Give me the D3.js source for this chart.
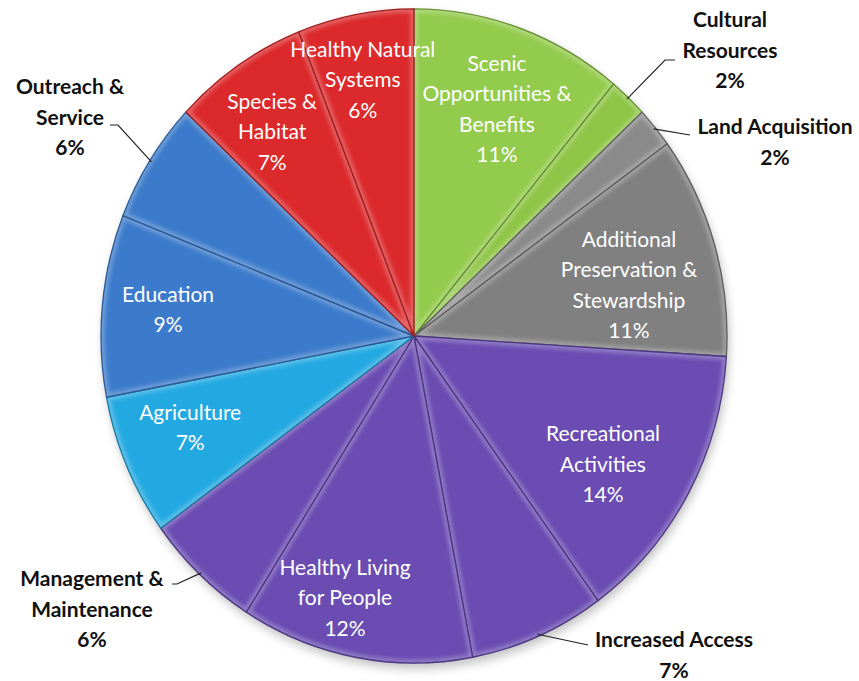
<!DOCTYPE html>
<html>
<head>
<meta charset="utf-8">
<script src="https://cdn.jsdelivr.net/npm/d3@7"></script>
<style>
  html, body { margin: 0; padding: 0; background: #ffffff; }
  svg { display: block; }
  .inlabel { font-family: Lato, "Open Sans", sans-serif; font-size: 21px; fill: #ffffff; }
  .outlabel { font-family: Lato, "Open Sans", sans-serif; font-size: 21px; font-weight: bold; fill: #111111; }
</style>
</head>
<body>
<script>
// slices, clockwise from 12 o'clock
var categories = [
    "Scenic Opportunities & Benefits", "Cultural Resources", "Land Acquisition",
    "Additional Preservation & Stewardship", "Recreational Activities", "Increased Access",
    "Healthy Living for People", "Management & Maintenance", "Agriculture",
    "Education", "Outreach & Service", "Species & Habitat", "Healthy Natural Systems"
];
var percents = [11, 2, 2, 11, 14, 7, 12, 6, 7, 9, 6, 7, 6];
var labelLines = [
    ["Scenic", "Opportunities &", "Benefits"],
    ["Cultural", "Resources"],
    ["Land Acquisition"],
    ["Additional", "Preservation &", "Stewardship"],
    ["Recreational", "Activities"],
    ["Increased Access"],
    ["Healthy Living", "for People"],
    ["Management &", "Maintenance"],
    ["Agriculture"],
    ["Education"],
    ["Outreach &", "Service"],
    ["Species &", "Habitat"],
    ["Healthy Natural", "Systems"]
];
var colors = [
    "#93CB4C", "#8EC546", "#8A8A8A", "#808080", "#6A4CB2", "#6A4CB2", "#6A4CB2",
    "#6A4CB2", "#23A9E1", "#3C7BCB", "#3C7BCB", "#DC2A2C", "#DC2A2C"
];

var width = 859, height = 681;
var cx = 414, cy = 336, r = 313, sy = 1.045;

var svg = d3.select("body").append("svg")
    .attr("width", width)
    .attr("height", height);

var defs = svg.append("defs");
defs.append("filter").attr("id", "shadow")
    .attr("x", "-10%").attr("y", "-10%").attr("width", "120%").attr("height", "120%")
    .append("feGaussianBlur").attr("stdDeviation", 5);
defs.append("filter").attr("id", "soft")
    .append("feGaussianBlur").attr("stdDeviation", 2.2);

var data = categories.map(function(c, i) {
    return { name: c, value: percents[i], lines: labelLines[i], color: colors[i] };
});

var pie = d3.pie().sort(null).value(function(d) { return d.value; });
var arcs = pie(data);
var arc = d3.arc().innerRadius(0).outerRadius(r);

var g = svg.append("g")
    .attr("transform", "translate(" + cx + "," + cy + ") scale(1," + sy + ")");

// soft shadow under the pie
g.append("circle")
    .attr("cx", 2).attr("cy", 5).attr("r", r)
    .style("fill", "#000")
    .style("opacity", 0.25)
    .attr("filter", "url(#shadow)");

arcs.forEach(function(d, i) {
    defs.append("clipPath").attr("id", "clip" + i)
        .append("path").attr("d", arc(d));
});

var slices = g.selectAll("g.slice")
    .data(arcs)
    .enter()
    .append("g")
    .attr("class", "slice");

slices.append("path")
    .attr("d", arc)
    .style("fill", function(d) { return d.data.color; });

// bevel: light inner edge + dark crease
slices.append("path")
    .attr("d", arc)
    .attr("clip-path", function(d, i) { return "url(#clip" + i + ")"; })
    .attr("filter", "url(#soft)")
    .style("fill", "none")
    .style("stroke", "#ffffff")
    .style("stroke-width", 7)
    .style("opacity", 0.28);

slices.append("path")
    .attr("d", arc)
    .style("fill", "none")
    .style("stroke", function(d) { return d3.color(d.data.color).darker(0.9); })
    .style("stroke-width", 1.3)
    .style("stroke-linejoin", "round");

// label placement: radius factor and angle nudge (degrees) off the slice middle
var lineH = 30.5;
var insideR = {
    "Scenic Opportunities & Benefits": [0.743, 1.1],
    "Additional Preservation & Stewardship": [0.704, 3.5],
    "Recreational Activities": [0.72, 4.2],
    "Healthy Living for People": [0.83, 4.6],
    "Agriculture": [0.768, 2],
    "Education": [0.79, 0.4],
    "Species & Habitat": [0.771, -1.8],
    "Healthy Natural Systems": [0.80, -1]
};
// outside labels: text block centre + leader elbow
var outside = {
    "Cultural Resources":       { tx: 730, ty: 20,  elbow: [665, 60],  tail: 10 },
    "Land Acquisition":         { tx: 775, ty: 127, elbow: [690, 135], tail: 0 },
    "Increased Access":         { tx: 674, ty: 640, elbow: [588, 645], tail: 0 },
    "Management & Maintenance": { tx: 92,  ty: 579, elbow: [177, 584], tail: -5 },
    "Outreach & Service":       { tx: 70,  ty: 87,  elbow: [118, 125], tail: -8 }
};

function polar(a, rr) {
    return [cx + rr * Math.sin(a), cy - rr * Math.cos(a) * sy];
}

arcs.forEach(function(d) {
    var mid = (d.startAngle + d.endAngle) / 2;
    var lines = d.data.lines.concat([d.data.value + "%"]);
    var o = outside[d.data.name];
    var x, y0, cls;
    if (o) {
        var edge = polar(mid, r - 2);
        var pts = [edge, o.elbow];
        if (o.tail) pts.push([o.elbow[0] + o.tail, o.elbow[1]]);
        svg.append("path")
            .attr("d", d3.line()(pts))
            .style("fill", "none")
            .style("stroke", "#222")
            .style("stroke-width", 1.2);
        x = o.tx;
        y0 = o.ty;
        cls = "outlabel";
    } else {
        var lr = insideR[d.data.name];
        var p = polar(mid + lr[1] * Math.PI / 180, r * lr[0]);
        x = p[0];
        y0 = p[1] - (lines.length - 1) * lineH / 2;
        cls = "inlabel";
    }
    var t = svg.append("text")
        .attr("class", cls)
        .attr("text-anchor", "middle");
    lines.forEach(function(l, k) {
        t.append("tspan")
            .attr("x", x)
            .attr("y", y0 + k * lineH)
            .attr("dy", "0.35em")
            .text(l);
    });
});
</script>
</body>
</html>
